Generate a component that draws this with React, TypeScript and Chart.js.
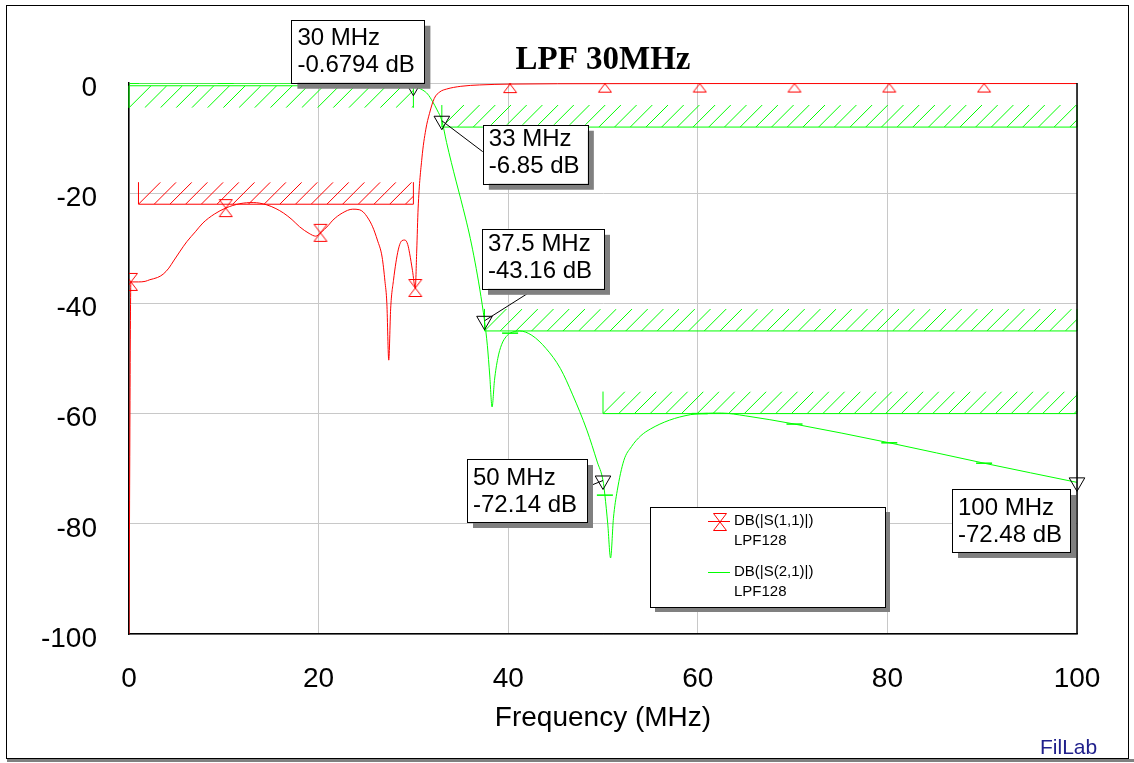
import React, { useEffect, useRef } from 'react';
import { Chart, registerables } from 'chart.js';

Chart.register(...registerables);

// ---------------- data ----------------
const xTicks = [0, 20, 40, 60, 80, 100];
const yTicks = [-100, -80, -60, -40, -20, 0];

const s11Freq = [0, 0.2, 1, 1.7, 2.2, 3, 3.6, 4.2, 4.7, 5.4, 6.1, 7, 7.8, 9, 10.2, 11.7, 13.1, 14.5, 15.5, 16.3, 17.2, 18, 19, 19.7, 20.2, 21, 21.5, 22.5, 23.6, 24.3, 24.7, 25.2, 25.7, 26.2, 26.7, 27, 27.2, 27.4, 27.6, 27.9, 28.4, 28.8, 29.1, 29.4, 29.6, 29.9, 30.2, 30.35, 30.5, 30.9, 31.3, 31.7, 32.2, 32.8, 33.5, 35, 37, 40.2, 50.2, 60.2, 70.2, 80.2, 90.2, 100];
const s11Db = [-100, -36.1, -36.1, -36.0, -35.7, -35.3, -34.7, -33.6, -32.3, -30.5, -28.8, -27, -25.4, -23.8, -22.7, -21.9, -21.7, -22.1, -22.8, -23.6, -24.8, -26.1, -27.3, -27.8, -27.2, -25.9, -24.9, -23.6, -22.9, -23.0, -23.4, -24.5, -26.1, -28.5, -31.6, -36, -40, -50.3, -41, -35.8, -30.3, -28.6, -28.5, -29.3, -30.9, -34, -37.2, -30.5, -22.7, -13.6, -8.5, -5.5, -2.8, -1.6, -1.1, -0.6, -0.35, -0.2, -0.12, -0.1, -0.1, -0.1, -0.1, -0.1];

const s21Freq = [0, 0.2, 10.2, 20.2, 25, 28, 29, 30, 30.2, 30.6, 31, 31.5, 32, 32.5, 33, 33.5, 34, 34.5, 35, 35.5, 36, 36.5, 37, 37.5, 37.8, 38.05, 38.3, 38.55, 38.9, 39.3, 39.8, 40.2, 41.2, 42.5, 44, 45.5, 46.8, 48.3, 49.4, 50, 50.2, 50.5, 50.8, 51.1, 51.5, 52.2, 53, 54, 55, 57, 59.2, 60.2, 62.5, 65, 70.2, 80.2, 90.2, 100];
const s21Db = [-0.02, -0.02, -0.03, -0.05, -0.1, -0.25, -0.4, -0.6794, -0.75, -0.95, -1.3, -2.0, -3.3, -4.9, -6.85, -10.8, -14.4, -17.8, -21.1, -24.5, -28.2, -32.5, -37.4, -43.16, -47.6, -53, -58.8, -54, -50, -47.5, -46.0, -45.4, -45.0, -45.8, -48.2, -51.8, -56.6, -63, -68.8, -72.14, -74.8, -80, -86.2, -79, -74, -68.5, -66, -64, -62.8, -61.2, -60.2, -60.0, -59.9, -60.4, -61.9, -65.3, -69.0, -72.48];

// trace symbols every 10 MHz
const traceMarkFreq = [0.2, 10.2, 20.2, 30.2, 40.2, 50.2, 60.2, 70.2, 80.2, 90.2];

// readout markers on S21
const readFreq = [30, 33, 37.5, 50, 100];
const readDb = [-0.6794, -6.85, -43.16, -72.14, -72.48];
const readFreqText = ['30 MHz', '33 MHz', '37.5 MHz', '50 MHz', '100 MHz'];
const readDbText = ['-0.6794 dB', '-6.85 dB', '-43.16 dB', '-72.14 dB', '-72.48 dB'];

// spec masks
const s11MaskStart = [1];
const s11MaskStop = [30];
const s11MaskLimit = [-22];
const s11MaskKind = ['max'];
const s21MaskStart = [0, 33, 37.5, 50];
const s21MaskStop = [30, 100, 100, 100];
const s21MaskLimit = [-0.5, -8, -45, -60];
const s21MaskKind = ['min', 'max', 'max', 'max'];

const legendNames = ['DB(|S(1,1)|)', 'DB(|S(2,1)|)'];
const legendSub = ['LPF128', 'LPF128'];

// ---------------- styles / layout ----------------
const RED = '#ff0000';
const GREEN = '#00ff00';
const FONT = "Arial, 'Liberation Sans', sans-serif";
const HATCH_DEPTH = 4; // dB
const HATCH_STEP = 15.7; // px

// callout box layout relative to the marker pixel
const calloutLayout = [
  { dx: -122, dy: -67, w: 133, h: 63, lead: null as null | number[] },
  { dx: 41, dy: 4, w: 105, h: 59, lead: [0, 27] },
  { dx: -2.5, dy: -92, w: 122, h: 60, lead: [53, 60] },
  { dx: -136, dy: -21.5, w: 120, h: 63, lead: [120, 28] },
  { dx: -125, dy: 6.6, w: 118, h: 63, lead: null },
];

function makeHourglass(): HTMLCanvasElement {
  const c = document.createElement('canvas');
  c.width = 16;
  c.height = 20;
  const g = c.getContext('2d')!;
  g.strokeStyle = RED;
  g.lineWidth = 1;
  g.beginPath();
  g.moveTo(1.5, 1.5);
  g.lineTo(14.5, 1.5);
  g.lineTo(8, 10);
  g.closePath();
  g.moveTo(8, 10);
  g.lineTo(1.5, 18.5);
  g.lineTo(14.5, 18.5);
  g.closePath();
  g.stroke();
  return c;
}

function drawMask(ctx: CanvasRenderingContext2D, xs: any, ys: any, start: number, stop: number, limit: number, kind: string, color: string) {
  const x0 = xs.getPixelForValue(start);
  const x1 = xs.getPixelForValue(stop);
  const yl = ys.getPixelForValue(limit);
  const yh = ys.getPixelForValue(kind === 'max' ? limit + HATCH_DEPTH : limit - HATCH_DEPTH);
  const top = Math.min(yl, yh);
  const bot = Math.max(yl, yh);
  const h = bot - top;
  ctx.save();
  ctx.strokeStyle = color;
  ctx.lineWidth = 1;
  ctx.beginPath();
  ctx.rect(x0, top, x1 - x0, h);
  ctx.clip();
  ctx.beginPath();
  for (let px = x0; px < x1 + h; px += HATCH_STEP) {
    ctx.moveTo(px, bot);
    ctx.lineTo(px + h, top);
  }
  ctx.stroke();
  ctx.restore();
  ctx.save();
  ctx.strokeStyle = color;
  ctx.lineWidth = 1;
  ctx.beginPath();
  ctx.moveTo(x0, yl);
  ctx.lineTo(x1, yl);
  ctx.moveTo(x0, top);
  ctx.lineTo(x0, bot);
  ctx.moveTo(x1, top);
  ctx.lineTo(x1, bot);
  ctx.stroke();
  ctx.restore();
}

function makeOverlay(hourglass: HTMLCanvasElement) {
  return {
    id: 'overlay',
    beforeDatasetsDraw(chart: any) {
      const { ctx, scales } = chart;
      const xs = scales.x;
      const ys = scales.y;
      s21MaskStart.forEach((s, i) => drawMask(ctx, xs, ys, s, s21MaskStop[i], s21MaskLimit[i], s21MaskKind[i], GREEN));
      s11MaskStart.forEach((s, i) => drawMask(ctx, xs, ys, s, s11MaskStop[i], s11MaskLimit[i], s11MaskKind[i], RED));
    },
    afterDatasetsDraw(chart: any) {
      const { ctx, chartArea: ca, scales } = chart;
      const xs = scales.x;
      const ys = scales.y;
      ctx.save();
      // right frame of the plot
      ctx.strokeStyle = '#000';
      ctx.lineWidth = 1.5;
      ctx.beginPath();
      ctx.moveTo(ca.right, ca.top);
      ctx.lineTo(ca.right, ca.bottom);
      ctx.stroke();

      // callouts
      readFreq.forEach((f, i) => {
        const px = xs.getPixelForValue(f);
        const py = ys.getPixelForValue(readDb[i]);
        const L = calloutLayout[i];
        const bx = px + L.dx;
        const by = py + L.dy;
        if (L.lead) {
          ctx.strokeStyle = '#000';
          ctx.lineWidth = 1;
          ctx.beginPath();
          ctx.moveTo(px, py);
          ctx.lineTo(bx + L.lead[0], by + L.lead[1]);
          ctx.stroke();
        }
        ctx.fillStyle = '#808080';
        ctx.fillRect(bx + 6, by + 6, L.w, L.h);
        ctx.fillStyle = '#fff';
        ctx.fillRect(bx, by, L.w, L.h);
        ctx.strokeStyle = '#000';
        ctx.lineWidth = 1;
        ctx.strokeRect(Math.round(bx) + 0.5, Math.round(by) + 0.5, L.w, L.h);
        ctx.fillStyle = '#000';
        ctx.font = `24px ${FONT}`;
        ctx.textAlign = 'left';
        ctx.textBaseline = 'middle';
        ctx.fillText(readFreqText[i], bx + 6, by + L.h - 44);
        ctx.fillText(readDbText[i], bx + 6, by + L.h - 17);
      });

      // legend box
      const lx = ca.left + 521;
      const ly = ca.top + 424;
      const lw = 235;
      const lh = 100;
      ctx.fillStyle = '#808080';
      ctx.fillRect(lx + 5, ly + 5, lw, lh);
      ctx.fillStyle = '#fff';
      ctx.fillRect(lx, ly, lw, lh);
      ctx.strokeStyle = '#000';
      ctx.lineWidth = 1;
      ctx.strokeRect(Math.round(lx) + 0.5, Math.round(ly) + 0.5, lw, lh);
      const colors = [RED, GREEN];
      legendNames.forEach((name, i) => {
        const cy = ly + 14 + i * 51;
        ctx.strokeStyle = colors[i];
        ctx.lineWidth = 1;
        ctx.beginPath();
        ctx.moveTo(lx + 58, Math.round(cy) + 0.5);
        ctx.lineTo(lx + 80, Math.round(cy) + 0.5);
        ctx.stroke();
        if (i === 0) ctx.drawImage(hourglass, lx + 62, Math.round(cy) - 9);
        ctx.fillStyle = '#000';
        ctx.font = `15px ${FONT}`;
        ctx.textAlign = 'left';
        ctx.textBaseline = 'middle';
        ctx.fillText(name, lx + 84, cy);
        ctx.fillText(legendSub[i], lx + 84, cy + 20);
      });
      ctx.restore();
    },
    afterDraw(chart: any) {
      const { ctx } = chart;
      ctx.save();
      ctx.strokeStyle = '#000';
      ctx.lineWidth = 1;
      ctx.strokeRect(6.5, 5.5, 1122, 753);
      ctx.fillStyle = '#808080';
      ctx.fillRect(7, 759, 1127, 3);
      ctx.fillStyle = '#20208c';
      ctx.font = `21px ${FONT}`;
      ctx.textAlign = 'left';
      ctx.textBaseline = 'middle';
      ctx.fillText('FilLab', 1040, 748);
      ctx.restore();
    },
  };
}

export default function App() {
  const ref = useRef<HTMLCanvasElement>(null);
  useEffect(() => {
    const canvas = ref.current!;
    const hourglass = makeHourglass();
    const s11Pts = s11Freq.map((f, i) => ({ x: f, y: s11Db[i] }));
    const s21Pts = s21Freq.map((f, i) => ({ x: f, y: s21Db[i] }));
    const s11Marks = s11Pts.filter((p) => traceMarkFreq.includes(p.x));
    const s21Marks = s21Pts.filter((p) => traceMarkFreq.includes(p.x));
    const readPts = readFreq.map((f, i) => ({ x: f, y: readDb[i] }));

    const chart = new Chart(canvas, {
      type: 'line',
      data: {
        datasets: [
          {
            label: 'readout',
            data: readPts,
            showLine: false,
            pointStyle: 'triangle',
            rotation: 180,
            pointRadius: 9,
            pointBorderColor: '#000',
            pointBackgroundColor: 'rgba(0,0,0,0)',
            pointBorderWidth: 1,
            clip: false,
          } as any,
          {
            label: 'S11 marks',
            data: s11Marks,
            showLine: false,
            pointStyle: hourglass,
            pointRadius: 8,
          } as any,
          {
            label: 'S21 marks',
            data: s21Marks,
            showLine: false,
            pointStyle: 'line',
            pointRadius: 8,
            pointBorderColor: GREEN,
            pointBorderWidth: 1.5,
          } as any,
          {
            label: legendNames[0],
            data: s11Pts,
            borderColor: RED,
            borderWidth: 1,
            pointRadius: 0,
            cubicInterpolationMode: 'monotone',
            fill: false,
          } as any,
          {
            label: legendNames[1],
            data: s21Pts,
            borderColor: GREEN,
            borderWidth: 1,
            pointRadius: 0,
            cubicInterpolationMode: 'monotone',
            fill: false,
          } as any,
        ],
      },
      options: {
        responsive: false,
        devicePixelRatio: 1,
        animation: false,
        events: [],
        layout: { padding: { left: 0, right: 57, top: 0, bottom: 0 } },
        plugins: {
          legend: { display: false },
          tooltip: { enabled: false },
          title: {
            display: true,
            text: 'LPF 30MHz',
            fullSize: false,
            color: '#000',
            font: { family: "'Times New Roman', 'Liberation Serif', serif", size: 33, weight: 'bold', lineHeight: 1.2 },
            padding: { top: 41, bottom: 2.4 },
          },
        },
        scales: {
          x: {
            type: 'linear',
            min: 0,
            max: 100,
            afterFit: (s: any) => { s.height = 129; },
            afterBuildTicks: (s: any) => { s.ticks = xTicks.map((v) => ({ value: v })); },
            grid: { color: '#c8c8c8', drawTicks: false, lineWidth: 1 },
            border: { color: '#000', width: 1.5 },
            ticks: { color: '#000', font: { family: FONT, size: 28 }, padding: 28.5, maxRotation: 0 },
            title: {
              display: true,
              text: 'Frequency (MHz)',
              color: '#000',
              font: { family: FONT, size: 28 },
              padding: { top: 0, bottom: 28 },
            },
          },
          y: {
            type: 'linear',
            min: -100,
            max: 0,
            afterFit: (s: any) => { s.width = 129; },
            afterBuildTicks: (s: any) => { s.ticks = yTicks.map((v) => ({ value: v })); },
            grid: { color: '#c8c8c8', drawTicks: false, lineWidth: 1 },
            border: { color: '#000', width: 1.5 },
            ticks: { color: '#000', font: { family: FONT, size: 28 }, padding: 32, labelOffset: 5 },
          },
        },
      } as any,
      plugins: [makeOverlay(hourglass)],
    });
    return () => chart.destroy();
  }, []);

  return (
    <div style={{ position: 'fixed', left: 0, top: 0, width: 1134, height: 763, background: '#fff' }}>
      <canvas ref={ref} width={1134} height={763} style={{ display: 'block' }} />
    </div>
  );
}
